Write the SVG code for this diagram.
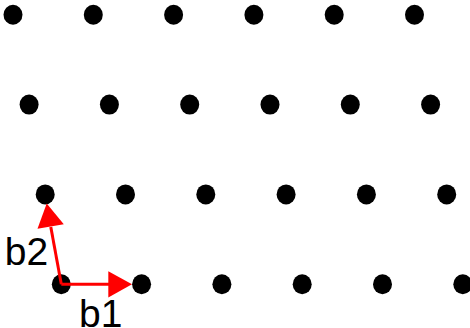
<svg xmlns="http://www.w3.org/2000/svg" width="470" height="328" viewBox="0 0 470 328">
<style>
.dot{fill:#000}
.vec{stroke:#ff0000;stroke-width:3;fill:none}
.head{fill:#ff0000}
.lbl{font-family:"Liberation Sans",Arial,sans-serif;font-size:39px;fill:#000}
</style>
<rect width="470" height="328" fill="#fff"/>
<g id="row0">
<g id="p00"><ellipse class="dot" cx="13" cy="14.8" rx="9.5" ry="10"/></g>
<g id="p01"><ellipse class="dot" cx="93.3" cy="14.8" rx="9.5" ry="10"/></g>
<g id="p02"><ellipse class="dot" cx="173.6" cy="14.8" rx="9.5" ry="10"/></g>
<g id="p03"><ellipse class="dot" cx="253.9" cy="14.8" rx="9.5" ry="10"/></g>
<g id="p04"><ellipse class="dot" cx="334.2" cy="14.8" rx="9.5" ry="10"/></g>
<g id="p05"><ellipse class="dot" cx="414.5" cy="14.8" rx="9.5" ry="10"/></g>
</g>
<g id="row1">
<g id="p10"><ellipse class="dot" cx="29.1" cy="104.6" rx="9.5" ry="10"/></g>
<g id="p11"><ellipse class="dot" cx="109.4" cy="104.6" rx="9.5" ry="10"/></g>
<g id="p12"><ellipse class="dot" cx="189.7" cy="104.6" rx="9.5" ry="10"/></g>
<g id="p13"><ellipse class="dot" cx="270" cy="104.6" rx="9.5" ry="10"/></g>
<g id="p14"><ellipse class="dot" cx="350.3" cy="104.6" rx="9.5" ry="10"/></g>
<g id="p15"><ellipse class="dot" cx="430.6" cy="104.6" rx="9.5" ry="10"/></g>
</g>
<g id="row2">
<g id="p20"><ellipse class="dot" cx="45.2" cy="194.4" rx="9.5" ry="10"/></g>
<g id="p21"><ellipse class="dot" cx="125.5" cy="194.4" rx="9.5" ry="10"/></g>
<g id="p22"><ellipse class="dot" cx="205.8" cy="194.4" rx="9.5" ry="10"/></g>
<g id="p23"><ellipse class="dot" cx="286.1" cy="194.4" rx="9.5" ry="10"/></g>
<g id="p24"><ellipse class="dot" cx="366.4" cy="194.4" rx="9.5" ry="10"/></g>
<g id="p25"><ellipse class="dot" cx="446.7" cy="194.4" rx="9.5" ry="10"/></g>
</g>
<g id="row3">
<g id="p30"><ellipse class="dot" cx="61.3" cy="284.2" rx="9.5" ry="10"/></g>
<g id="p31"><ellipse class="dot" cx="141.6" cy="284.2" rx="9.5" ry="10"/></g>
<g id="p32"><ellipse class="dot" cx="221.9" cy="284.2" rx="9.5" ry="10"/></g>
<g id="p33"><ellipse class="dot" cx="302.2" cy="284.2" rx="9.5" ry="10"/></g>
<g id="p34"><ellipse class="dot" cx="382.5" cy="284.2" rx="9.5" ry="10"/></g>
<g id="p35"><ellipse class="dot" cx="462.8" cy="284.2" rx="9.5" ry="10"/></g>
</g>
<g id="connectors">
<g id="b1">
<line class="vec" x1="61.3" y1="284.2" x2="109" y2="284.2"/>
<polygon class="head" points="108.3,271.2 132,284.2 108.3,297.6"/>
</g>
<g id="b2">
<line class="vec" x1="61.3" y1="284.2" x2="50.8" y2="227"/>
<polygon class="head" points="63.8,224.2 46.7,203.4 37.5,228.7"/>
</g>
</g>
<g id="labels">
<text class="lbl" x="4.7" y="265">b2</text>
<text class="lbl" x="79" y="326.7">b1</text>
</g>
</svg>
